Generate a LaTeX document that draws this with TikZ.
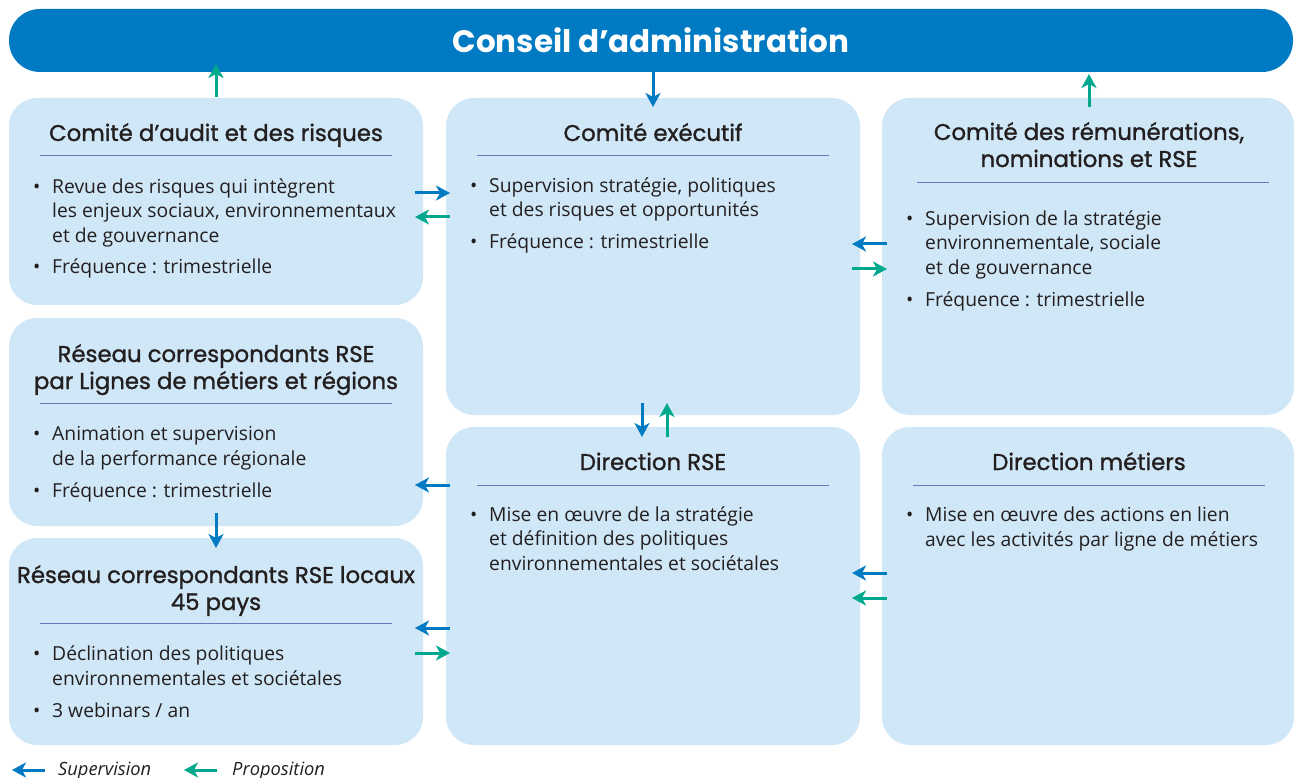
\documentclass[tikz,border=0pt]{standalone}
\usepackage{fontspec}
\setmainfont{Open Sans}
\newfontfamily\titrefont{Poppins}
\newfontfamily\entetefont{Poppins}[FakeBold=1.2]
\usetikzlibrary{arrows.meta}

\definecolor{bleu}{RGB}{0,122,194}
\definecolor{vert}{RGB}{0,168,142}
\definecolor{fond}{RGB}{207,231,246}
\definecolor{filet}{RGB}{112,118,190}
\definecolor{encre}{RGB}{35,31,32}

\newcommand{\puce}{\makebox[19pt][l]{\textbullet}}
\newcommand{\retrait}{\hspace*{19pt}}

\tikzset{
    boite/.style={fill=fond, rounded corners=28pt, inner sep=0pt},
    entete/.style={font=\entetefont\fontsize{22.8}{27}\selectfont, text=encre, align=center, anchor=base, inner sep=0pt},
    corps/.style={font=\fontsize{19.3}{24.5}\selectfont, text=encre, align=left, anchor=base west, inner sep=0pt},
    regle/.style={draw=filet, line width=1pt},
    sup/.style={-{Stealth[length=14pt,width=15pt,inset=4pt]}, line width=3pt, bleu},
    prop/.style={-{Stealth[length=14pt,width=15pt,inset=4pt]}, line width=3pt, vert},
    legende/.style={font=\itshape\fontsize{18.3}{20}\selectfont, text=encre, anchor=base west, inner sep=0pt},
}

\begin{document}
\begin{tikzpicture}[x=1pt, y=-1pt]
            \useasboundingbox (0,0) rectangle (1294,778);

            % bandeau
            \node[fill=bleu, rounded corners=31pt, minimum width=1284pt, minimum height=63pt, text=white,
                  font=\titrefont\bfseries\fontsize{31}{34}\selectfont] (ca) at (651,40.5) {Conseil d’administration};

            % boites
            \node[boite, minimum width=414pt, minimum height=207pt] (audit) at (216,201.5) {};
            \node[boite, minimum width=414pt, minimum height=317pt] (exec) at (653,256.5) {};
            \node[boite, minimum width=412pt, minimum height=317pt] (remun) at (1088,256.5) {};
            \node[boite, minimum width=414pt, minimum height=208pt] (reseau) at (216,422) {};
            \node[boite, minimum width=414pt, minimum height=207pt] (locaux) at (216,641.5) {};
            \node[boite, minimum width=414pt, minimum height=318pt] (dirrse) at (653,586) {};
            \node[boite, minimum width=412pt, minimum height=318pt] (metiers) at (1088,586) {};

            % titres (base = derniere ligne)
            \node[entete] (auditT) at (216,141) {Comité d’audit et des risques};
            \node[entete] (execT) at (653,141) {Comité exécutif};
            \node[entete] (remunT) at (1089,167) {Comité des rémunérations,\\nominations et RSE};
            \node[entete] (reseauT) at (216,389) {Réseau correspondants RSE\\par Lignes de métiers et régions};
            \node[entete] (locauxT) at (216,610) {Réseau correspondants RSE locaux\\45 pays};
            \node[entete] (dirrseT) at (653,470) {Direction RSE};
            \node[entete] (metiersT) at (1089,470) {Direction métiers};

            \draw[regle] (40,156) -- (392,156);
            \draw[regle] (477,156) -- (829,156);
            \draw[regle] (917,183) -- (1269,183);
            \draw[regle] (40,403) -- (392,403);
            \draw[regle] (40,623) -- (392,623);
            \draw[regle] (477,485) -- (829,485);
            \draw[regle] (913,485) -- (1265,485);

            % textes (base = derniere ligne)
            \node[corps] (auditC) at (33,274) {\puce Revue des risques qui intègrent\\
                \retrait les enjeux sociaux, environnementaux\\
                \retrait et de gouvernance\\[7.5pt]
                \puce Fréquence : trimestrielle};
            \node[corps] (execC) at (470,249) {\puce Supervision stratégie, politiques\\
                \retrait et des risques et opportunités\\[7.5pt]
                \puce Fréquence : trimestrielle};
            \node[corps] (remunC) at (906,306) {\puce Supervision de la stratégie\\
                \retrait environnementale, sociale\\
                \retrait et de gouvernance\\[7.5pt]
                \puce Fréquence : trimestrielle};
            \node[corps] (reseauC) at (33,497) {\puce Animation et supervision\\
                \retrait de la performance régionale\\[7.5pt]
                \puce Fréquence : trimestrielle};
            \node[corps] (locauxC) at (33,717) {\puce Déclination des politiques\\
                \retrait environnementales et sociétales\\[7.5pt]
                \puce 3 webinars / an};
            \node[corps] (dirrseC) at (470,570) {\puce Mise en œuvre de la stratégie\\
                \retrait et définition des politiques\\
                \retrait environnementales et sociétales};
            \node[corps] (metiersC) at (906,546) {\puce Mise en œuvre des actions en lien\\
                \retrait avec les activités par ligne de métiers};

            % points des fleches
            \coordinate (a1) at (216,97);   \coordinate (b1) at (216,64);
            \coordinate (a2) at (653,72);   \coordinate (b2) at (653,107);
            \coordinate (a3) at (1089,107); \coordinate (b3) at (1089,74);
            \coordinate (a4) at (415,193);  \coordinate (b4) at (450,193);
            \coordinate (a5) at (450,217);  \coordinate (b5) at (415,217);
            \coordinate (a6) at (887,244);  \coordinate (b6) at (852,244);
            \coordinate (a7) at (852,269);  \coordinate (b7) at (887,269);
            \coordinate (a8) at (642,403);  \coordinate (b8) at (642,437);
            \coordinate (a9) at (667,437);  \coordinate (b9) at (667,403);
            \coordinate (a10) at (450,485); \coordinate (b10) at (415,485);
            \coordinate (a11) at (216,513); \coordinate (b11) at (216,548);
            \coordinate (a12) at (450,628); \coordinate (b12) at (415,628);
            \coordinate (a13) at (415,653); \coordinate (b13) at (450,653);
            \coordinate (a14) at (887,573); \coordinate (b14) at (852,573);
            \coordinate (a15) at (887,598); \coordinate (b15) at (852,598);

            \draw[prop] (a1) -- (b1);
            \draw[sup] (a2) -- (b2);
            \draw[prop] (a3) -- (b3);
            \draw[sup] (a4) -- (b4);
            \draw[prop] (a5) -- (b5);
            \draw[sup] (a6) -- (b6);
            \draw[prop] (a7) -- (b7);
            \draw[sup] (a8) -- (b8);
            \draw[prop] (a9) -- (b9);
            \draw[sup] (a10) -- (b10);
            \draw[sup] (a11) -- (b11);
            \draw[sup] (a12) -- (b12);
            \draw[prop] (a13) -- (b13);
            \draw[sup] (a14) -- (b14);
            \draw[prop] (a15) -- (b15);

            % legende
            \coordinate (l1) at (45,770);   \coordinate (m1) at (12,770);
            \coordinate (l2) at (217,770);  \coordinate (m2) at (184,770);
            \draw[sup] (l1) -- (m1);
            \draw[prop] (l2) -- (m2);
            \node[legende] (supL) at (58,775) {Supervision};
            \node[legende] (propL) at (232,775) {Proposition};
        \end{tikzpicture}
\end{document}
